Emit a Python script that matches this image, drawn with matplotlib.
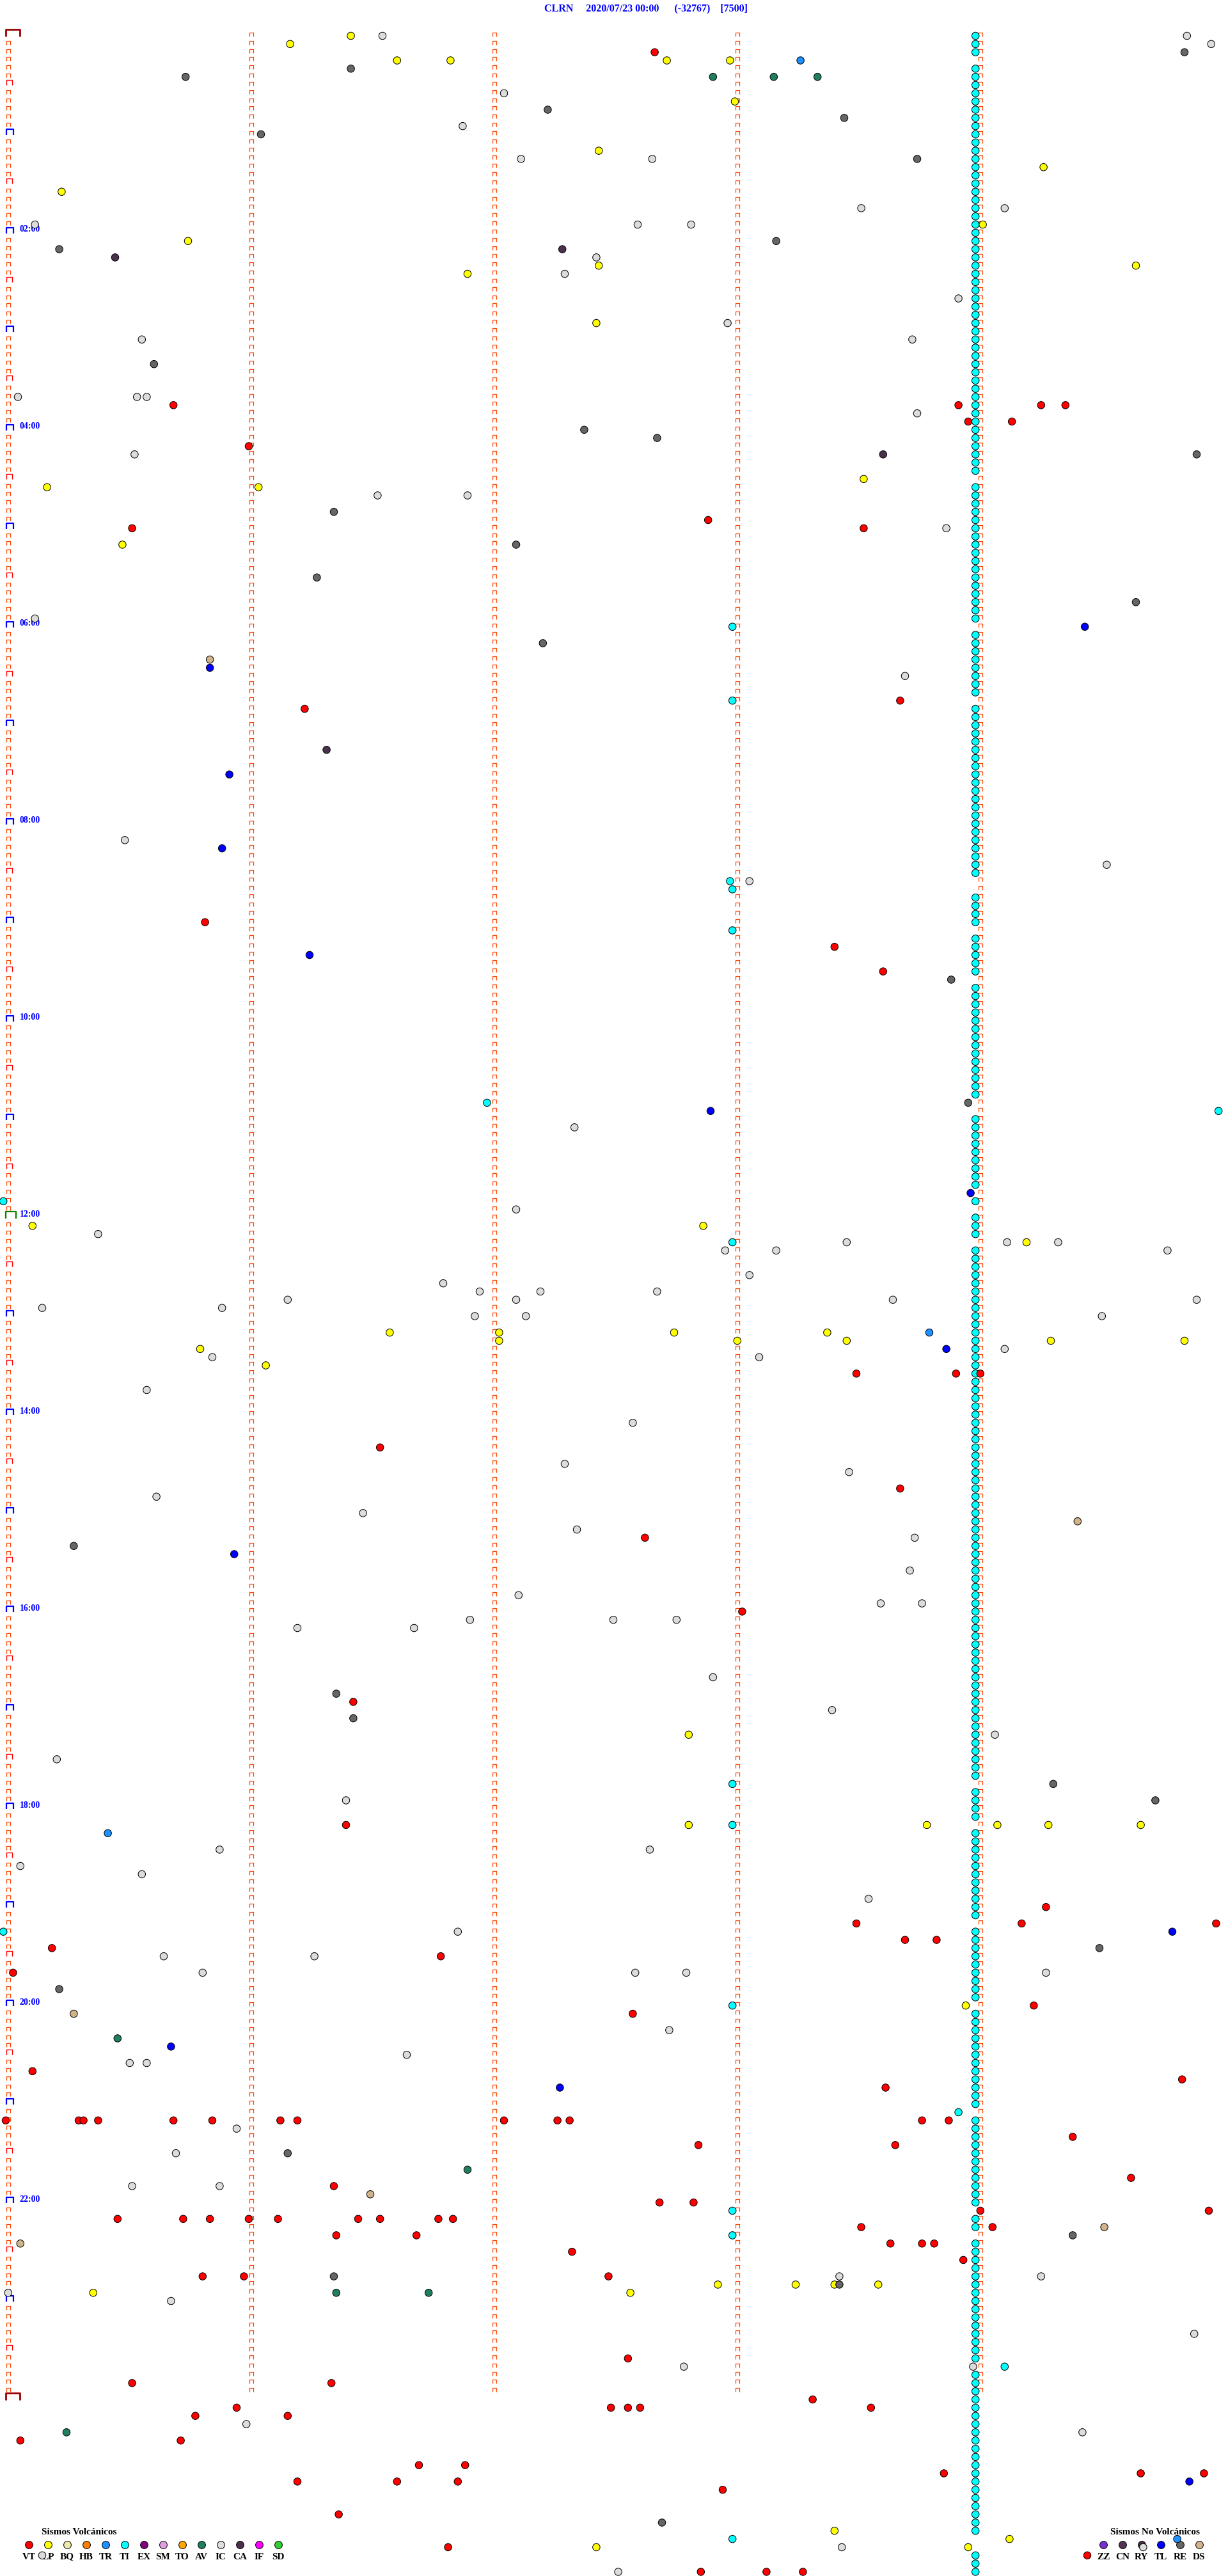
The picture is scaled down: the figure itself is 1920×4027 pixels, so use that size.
import matplotlib
matplotlib.use("Agg")
import matplotlib.pyplot as plt
from matplotlib.path import Path
from matplotlib.transforms import offset_copy

plt.rcParams['font.family'] = ['Liberation Serif', 'DejaVu Serif']

# cabecera del helicorder
estacion = "CLRN"
fecha = "2020/07/23 00:00"
minimo = "(-32767)"
escala = "[7500]"

# 5 minutos por linea, 288 lineas = 24 h
min_por_linea = 5
n_lineas = 288

# eventos: (linea, minuto dentro de la linea)
VT = [(2, 2.66), (45, 0.68), (45, 3.91), (45, 4.25), (45, 4.35), (47, 3.95), (47, 4.13),
      (50, 0.99), (59, 2.88), (60, 0.51), (60, 3.52), (81, 3.67), (82, 1.22),
      (108, 0.81), (111, 3.40), (114, 3.60), (163, 3.49), (163, 3.90), (163, 4.00),
      (172, 1.53), (177, 3.67), (183, 2.62), (192, 3.02), (203, 1.42), (218, 1.39),
      (228, 4.27), (230, 3.49), (230, 4.17), (230, 4.97), (232, 3.69), (232, 3.82),
      (233, 0.18), (234, 1.78), (236, 0.02), (240, 4.22), (241, 2.57), (248, 0.10),
      (249, 4.83), (250, 3.61),
      (254, -0.01), (254, 0.29), (254, 0.31), (254, 0.37), (254, 0.68), (254, 0.84),
      (254, 1.12), (254, 1.19), (254, 2.04), (254, 2.26), (254, 2.31), (254, 3.76), (254, 3.87),
      (256, 4.38), (257, 2.84), (257, 3.65), (261, 4.62), (262, 1.34), (264, 2.68), (264, 2.82),
      (265, 4.00), (265, 4.94),
      (266, 0.45), (266, 0.72), (266, 0.83), (266, 0.99), (266, 1.11), (266, 1.44),
      (266, 1.53), (266, 1.77), (266, 1.83),
      (267, 3.51), (267, 4.05), (268, 1.35), (268, 1.68), (269, 3.63), (269, 3.76), (269, 3.81),
      (270, 2.32), (271, 3.93), (273, 0.80), (273, 0.97), (273, 2.47), (283, 2.55),
      (286, 0.51), (286, 1.33), (288, 3.31), (289, 0.94), (289, 2.48), (289, 2.55),
      (289, 2.60), (289, 3.55), (290, 0.77), (290, 1.15), (293, 0.05), (293, 0.71),
      (296, 1.69), (296, 1.88), (297, 3.85), (297, 4.66), (297, 4.92), (298, 1.19),
      (298, 1.60), (298, 1.85), (299, 2.94), (302, 1.36), (306, 1.81), (307, 4.44),
      (309, 2.85), (309, 3.12), (309, 3.27)]

LP = [(0, 1.41), (1, 1.16), (3, 1.60), (3, 1.82), (3, 2.71), (3, 2.97), (8, 2.99), (14, 2.43),
      (16, 4.26), (19, 0.22), (23, 4.01), (25, 0.74), (28, 2.43), (28, 4.64), (29, 1.89),
      (35, 2.42), (54, 3.52), (55, 0.16), (55, 1.03), (62, 0.47),
      (145, 0.10), (145, 2.86), (147, 4.19), (158, 1.57), (158, 2.02), (158, 2.74), (158, 3.37),
      (159, 2.02), (159, 3.00), (159, 3.45), (159, 4.29), (159, 4.84), (160, 0.79), (162, 1.06),
      (207, 2.80), (218, 2.80), (218, 3.78), (218, 4.07), (218, 4.28), (218, 4.66), (240, 3.94),
      (274, 2.92), (274, 3.24), (274, 3.40), (274, 3.58), (275, 0.35), (275, 2.56),
      (304, 3.40), (305, 4.12), (306, 2.42), (306, 3.95)]

IC = [(0, 1.54), (0, 4.85), (1, 4.95), (7, 2.04), (11, 1.87), (15, 2.11), (15, 2.65),
      (21, 3.51), (21, 4.10), (23, 0.11), (23, 2.59), (23, 2.81), (27, 2.42), (29, 2.29),
      (32, 3.91), (35, 2.96), (37, 0.55), (37, 3.72), (44, 0.04), (44, 0.53), (44, 0.57),
      (46, 3.74), (51, 0.52), (56, 1.52), (56, 1.89), (60, 3.86), (71, 0.11), (78, 3.69),
      (98, 0.48), (101, 4.52), (103, 3.05), (133, 2.33), (143, 2.09), (146, 0.37),
      (147, 3.45), (147, 4.11), (147, 4.32), (148, 2.95), (148, 3.16), (148, 4.77),
      (151, 3.05), (152, 1.79), (153, 1.94), (153, 2.19), (153, 2.67), (154, 1.15),
      (154, 2.09), (154, 3.64), (154, 4.89), (155, 0.14), (155, 0.88), (156, 1.92),
      (156, 2.13), (156, 4.50), (160, 4.10), (161, 0.84), (161, 3.09), (165, 0.57),
      (169, 2.57), (174, 2.29), (175, 3.46), (178, 0.61), (180, 1.46), (182, 2.34),
      (183, 3.73), (187, 3.71), (190, 2.10), (191, 3.59), (191, 3.76), (193, 1.90),
      (193, 2.49), (193, 2.75), (194, 1.19), (194, 1.67), (200, 2.90), (204, 3.39),
      (207, 4.06), (210, 0.20), (215, 1.39), (221, 0.87), (221, 2.64), (223, 0.05),
      (224, 0.55), (227, 3.54), (231, 1.85), (234, 0.64), (234, 1.26), (236, 0.80),
      (236, 2.58), (236, 2.79), (236, 4.27), (243, 2.72), (246, 1.64), (247, 0.50),
      (247, 0.57), (255, 0.94), (258, 0.69), (262, 0.51), (262, 0.87), (273, 3.42),
      (273, 4.25), (275, 0.00), (276, 0.67), (280, 4.88), (284, 2.78), (284, 3.97),
      (291, 0.98), (292, 4.42), (306, 3.43), (306, 4.67), (307, 0.14), (309, 2.51)]

RE = [(2, 4.84), (4, 1.41), (5, 0.73), (9, 2.22), (10, 3.44), (12, 1.04), (15, 3.74),
      (25, 3.16), (26, 0.21), (40, 0.60), (48, 2.37), (49, 2.67), (51, 4.89), (58, 1.34),
      (62, 2.09), (66, 1.27), (69, 4.64), (74, 2.20), (115, 3.88), (130, 3.95), (184, 0.27),
      (202, 1.35), (205, 1.42), (213, 4.30), (215, 4.72), (233, 4.49), (238, 0.21),
      (258, 1.15), (268, 4.38), (273, 1.34), (274, 3.42), (303, 2.69)]

CA = [(26, 2.28), (27, 0.44), (51, 3.60), (87, 1.31)]

TL = [(72, 4.43), (77, 0.83), (90, 0.91), (99, 0.88), (112, 1.24), (131, 2.89), (141, 3.96),
      (160, 3.86), (185, 0.93), (231, 4.79), (245, 0.67), (250, 2.27), (298, 4.86)]

TR = [(3, 3.26), (158, 3.79), (219, 0.41), (305, 4.81)]

AV = [(5, 2.90), (5, 3.15), (5, 3.33), (244, 0.45), (260, 1.89), (275, 1.35), (275, 1.73),
      (292, 0.24)]

DS = [(76, 0.83), (181, 4.40), (241, 0.27), (263, 1.49), (267, 4.51), (269, 0.05)]

# TI sueltos
TI = [(72, 2.98), (81, 2.98), (103, 2.97), (104, 2.98), (109, 2.98), (130, 1.97), (131, 4.98),
      (142, -0.02), (147, 2.98), (213, 2.98), (218, 2.98), (231, -0.02), (240, 2.98),
      (253, 3.91), (265, 2.98), (268, 2.98), (284, 4.10), (305, 2.98)]
# TI repetido en el minuto 3.98 de cada linea, tramos de lineas (inicio, fin)
ti_minuto = 3.98
ti_tramos = [(0, 2), (4, 53), (55, 71), (73, 80), (82, 102), (105, 108), (110, 114),
             (116, 129), (132, 140), (142, 142), (144, 146), (148, 212), (214, 217),
             (219, 229), (231, 239), (241, 252), (254, 264), (266, 267), (269, 283),
             (285, 304), (307, 309)]

tipos_volc = ["VT", "LP", "BQ", "HB", "TR", "TI", "EX", "SM", "TO", "AV", "IC", "CA", "IF", "SD"]
colores_volc = ["#ff0000", "#ffff00", "#eee8aa", "#ff8000", "#1e90ff", "#00ffff", "#800080",
                "#e0a0e0", "#ffa500", "#1f7f5f", "#dcdcdc", "#4b304b", "#ff00ff", "#32cd32"]
tipos_novolc = ["ZZ", "CN", "RY", "TL", "RE", "DS"]
colores_novolc = ["#7b2fd0", "#553355", "#4b2d4b", "#0000ff", "#666666", "#d2b48c"]

color = dict(zip(tipos_volc + tipos_novolc, colores_volc + colores_novolc))

ti_col = [(r, ti_minuto) for a, b in ti_tramos for r in range(a, b + 1)]
eventos = {"VT": VT, "LP": LP, "IC": IC, "RE": RE, "CA": CA, "TL": TL, "TR": TR,
           "AV": AV, "DS": DS, "TI": TI + ti_col}

# ---- figura ----
W, H = 1920, 4027
px_min = 380.0     # px por minuto
px_lin = 12.83     # px por linea
x0, y0 = 12.8, 56.0

fig = plt.figure(figsize=(W / 100, H / 100), dpi=100)
fig.patch.set_facecolor("white")

# capa de leyenda (debajo)
lax = fig.add_axes([0, 0, 1, 1])
lax.set_xlim(0, W)
lax.set_ylim(H, 0)
lax.axis("off")

ax = fig.add_axes([0, 0, 1, 1])
ax.set_xlim(-x0 / px_min, (W - x0) / px_min)
ax.set_ylim((H - y0) / px_lin, -y0 / px_lin)
ax.axis("off")


def corchete(izq, der, abajo, arriba):
    verts = [(izq, -abajo), (izq, arriba), (der, arriba), (der, -abajo)]
    p = Path(verts, [Path.MOVETO, Path.LINETO, Path.LINETO, Path.LINETO])
    ms = 2 * max(abs(v) for xy in verts for v in xy) * 0.72
    return p, ms


def marcas(xs, ys, forma, col, lw):
    p, ms = forma
    ax.plot(xs, ys, ls="none", marker=p, ms=ms, mfc="none", mec=col, mew=lw,
            zorder=1)


peq = corchete(-3, 3, 1, 5)
media = corchete(-3.5, 6, 0.3, 8)
hora = corchete(-3.5, 7.5, 0.5, 8.5)
extremo = corchete(-3.8, 18, 1, 10)
medio_dia = corchete(-3.8, 12, 0.5, 10)

xs, ys = [], []
for r in range(n_lineas):
    for m in range(min_por_linea):
        if m == 0 and r % 6 == 0:
            continue
        xs.append(m)
        ys.append(r)
marcas(xs, ys, peq, "#ff4500", 0.9)

filas_media = [r for r in range(n_lineas) if r % 6 == 0 and r % 12 != 0]
marcas([0] * len(filas_media), filas_media, media, "#ff0000", 1.0)
filas_hora = [r for r in range(12, n_lineas, 12) if r != 144]
marcas([0] * len(filas_hora), filas_hora, hora, "#0000ff", 1.6)
marcas([0], [144], medio_dia, "#008000", 1.6)
marcas([0, 0], [0, n_lineas], extremo, "#990000", 2.0)

# etiquetas de hora
tr_lab = offset_copy(ax.transData, fig=fig, x=18, y=5, units="dots")
for r in range(24, n_lineas, 24):
    ax.text(0, r, "%02d:00" % (r * min_por_linea // 60), transform=tr_lab,
            color="#0000ff", fontsize=10, fontweight="bold", ha="left", va="center")

# eventos, en orden cronologico
todos = []
for tipo, lista in eventos.items():
    for r, m in lista:
        todos.append((r * min_por_linea + m, r, m, color[tipo]))
todos.sort()
ax.scatter([t[2] for t in todos], [t[1] for t in todos], s=68,
           c=[t[3] for t in todos], edgecolors="black", linewidths=0.72, zorder=3)

# titulo
fig.text(0.526, 1 - 13 / H,
         estacion + "     " + fecha + "      " + minimo + "    " + escala,
         color="#0000ff", fontsize=11.5, fontweight="bold", ha="center", va="center")

# leyendas
lax.text(124, 3958, "Sismos Volcánicos", fontsize=11, fontweight="bold",
         ha="center", va="center")
for i, (tp, cl) in enumerate(zip(tipos_volc, colores_volc)):
    lax.scatter(45 + 30 * i, 3978, s=72, c=cl, edgecolors="black", linewidths=0.72)
    lax.text(45 + 30 * i, 3997, tp, fontsize=11, fontweight="bold", ha="center", va="center")

lax.text(1806, 3958, "Sismos No Volcánicos", fontsize=11, fontweight="bold",
         ha="center", va="center")
for i, (tp, cl) in enumerate(zip(tipos_novolc, colores_novolc)):
    lax.scatter(1725 + 30 * i, 3978, s=72, c=cl, edgecolors="black", linewidths=0.72)
    lax.text(1725 + 30 * i, 3997, tp, fontsize=11, fontweight="bold", ha="center", va="center")

fig.savefig("out.png", dpi=100, facecolor="white")
